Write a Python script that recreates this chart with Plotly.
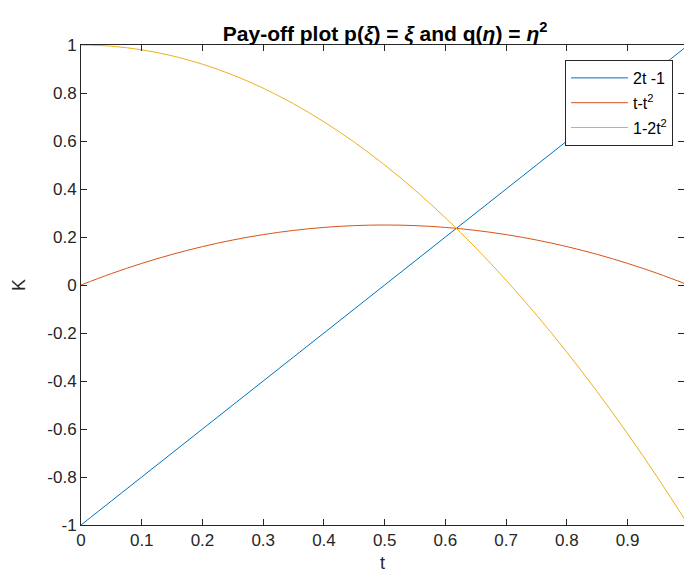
import plotly.graph_objects as go

# sample points of t
t = [0, 0.05, 0.1, 0.15, 0.2, 0.25, 0.3, 0.35, 0.4, 0.45, 0.5,
     0.55, 0.6, 0.65, 0.7, 0.75, 0.8, 0.85, 0.9, 0.95, 1.0]
# series values
lin = [-1, -0.9, -0.8, -0.7, -0.6, -0.5, -0.4, -0.3, -0.2, -0.1, 0,
       0.1, 0.2, 0.3, 0.4, 0.5, 0.6, 0.7, 0.8, 0.9, 1.0]
par = [0, 0.0475, 0.09, 0.1275, 0.16, 0.1875, 0.21, 0.2275, 0.24, 0.2475, 0.25,
       0.2475, 0.24, 0.2275, 0.21, 0.1875, 0.16, 0.1275, 0.09, 0.0475, 0]
quad = [1, 0.995, 0.98, 0.955, 0.92, 0.875, 0.82, 0.755, 0.68, 0.595, 0.5,
        0.395, 0.28, 0.155, 0.02, -0.125, -0.28, -0.445, -0.62, -0.805, -1.0]

names = ["2t -1", "t-t<sup>2</sup>", "1-2t<sup>2</sup>"]
colors = ["#0072BD", "#D95319", "#EDB120"]

xtick_vals = [0, 0.1, 0.2, 0.3, 0.4, 0.5, 0.6, 0.7, 0.8, 0.9]
xtick_text = ["0", "0.1", "0.2", "0.3", "0.4", "0.5", "0.6", "0.7", "0.8", "0.9"]
ytick_vals = [-1, -0.8, -0.6, -0.4, -0.2, 0, 0.2, 0.4, 0.6, 0.8, 1]
ytick_text = ["-1", "-0.8", "-0.6", "-0.4", "-0.2", "0", "0.2", "0.4", "0.6", "0.8", "1"]

FONT = "Liberation Sans, Arial, sans-serif"
AX = "#262626"

fig = go.Figure()
for i, (ys, nm, c) in enumerate(zip([lin, par, quad], names, colors)):
    fig.add_trace(go.Scatter(x=t, y=ys, mode="lines", name=nm, legendgroup=f"g{i}",
                             line=dict(color=c, width=1, shape="spline")))

fig.update_layout(
    width=684, height=578,
    margin=dict(l=81, r=0, t=45, b=53, autoexpand=False),
    paper_bgcolor="white", plot_bgcolor="white",
    font=dict(family=FONT, color=AX, size=17),
    hovermode=False,
    title=dict(text="<b>Pay-off plot p(<i>ξ</i>) = <i>ξ</i> and q(<i>η</i>) = <i>η</i><sup>2</sup></b>",
               x=0.563, xanchor="center", y=1 - 41 / 578, yanchor="bottom",
               font=dict(size=21, color="black", family=FONT)),
    xaxis=dict(range=[0, 0.9928], tickvals=xtick_vals, ticktext=xtick_text,
               ticks="inside", ticklen=6, tickcolor=AX, showline=True, linecolor=AX,
               linewidth=1, mirror="ticks", showgrid=False, zeroline=False,
               automargin=False,
               title=dict(text="t", font=dict(size=18, color=AX), standoff=6),
               tickfont=dict(size=17, color=AX)),
    yaxis=dict(range=[-1, 1], tickvals=ytick_vals, ticktext=ytick_text,
               ticks="inside", ticklen=6, tickcolor=AX, showline=True, linecolor=AX,
               linewidth=1, mirror="ticks", showgrid=False, zeroline=False,
               automargin=False,
               title=dict(text="K", font=dict(size=18, color=AX), standoff=17),
               tickfont=dict(size=17, color=AX)),
    legend=dict(x=(673 - 81) / 603, y=(525 - 60) / 480, xanchor="right", yanchor="top",
                bgcolor="white", bordercolor=AX, borderwidth=1,
                font=dict(size=16, color="black", family=FONT),
                traceorder="grouped", tracegroupgap=1, itemwidth=57),
    showlegend=True,
)

fig.write_html("out.html",
               config={"displayModeBar": False},
               post_script="document.body.style.margin='0';document.body.style.overflow='hidden';")
